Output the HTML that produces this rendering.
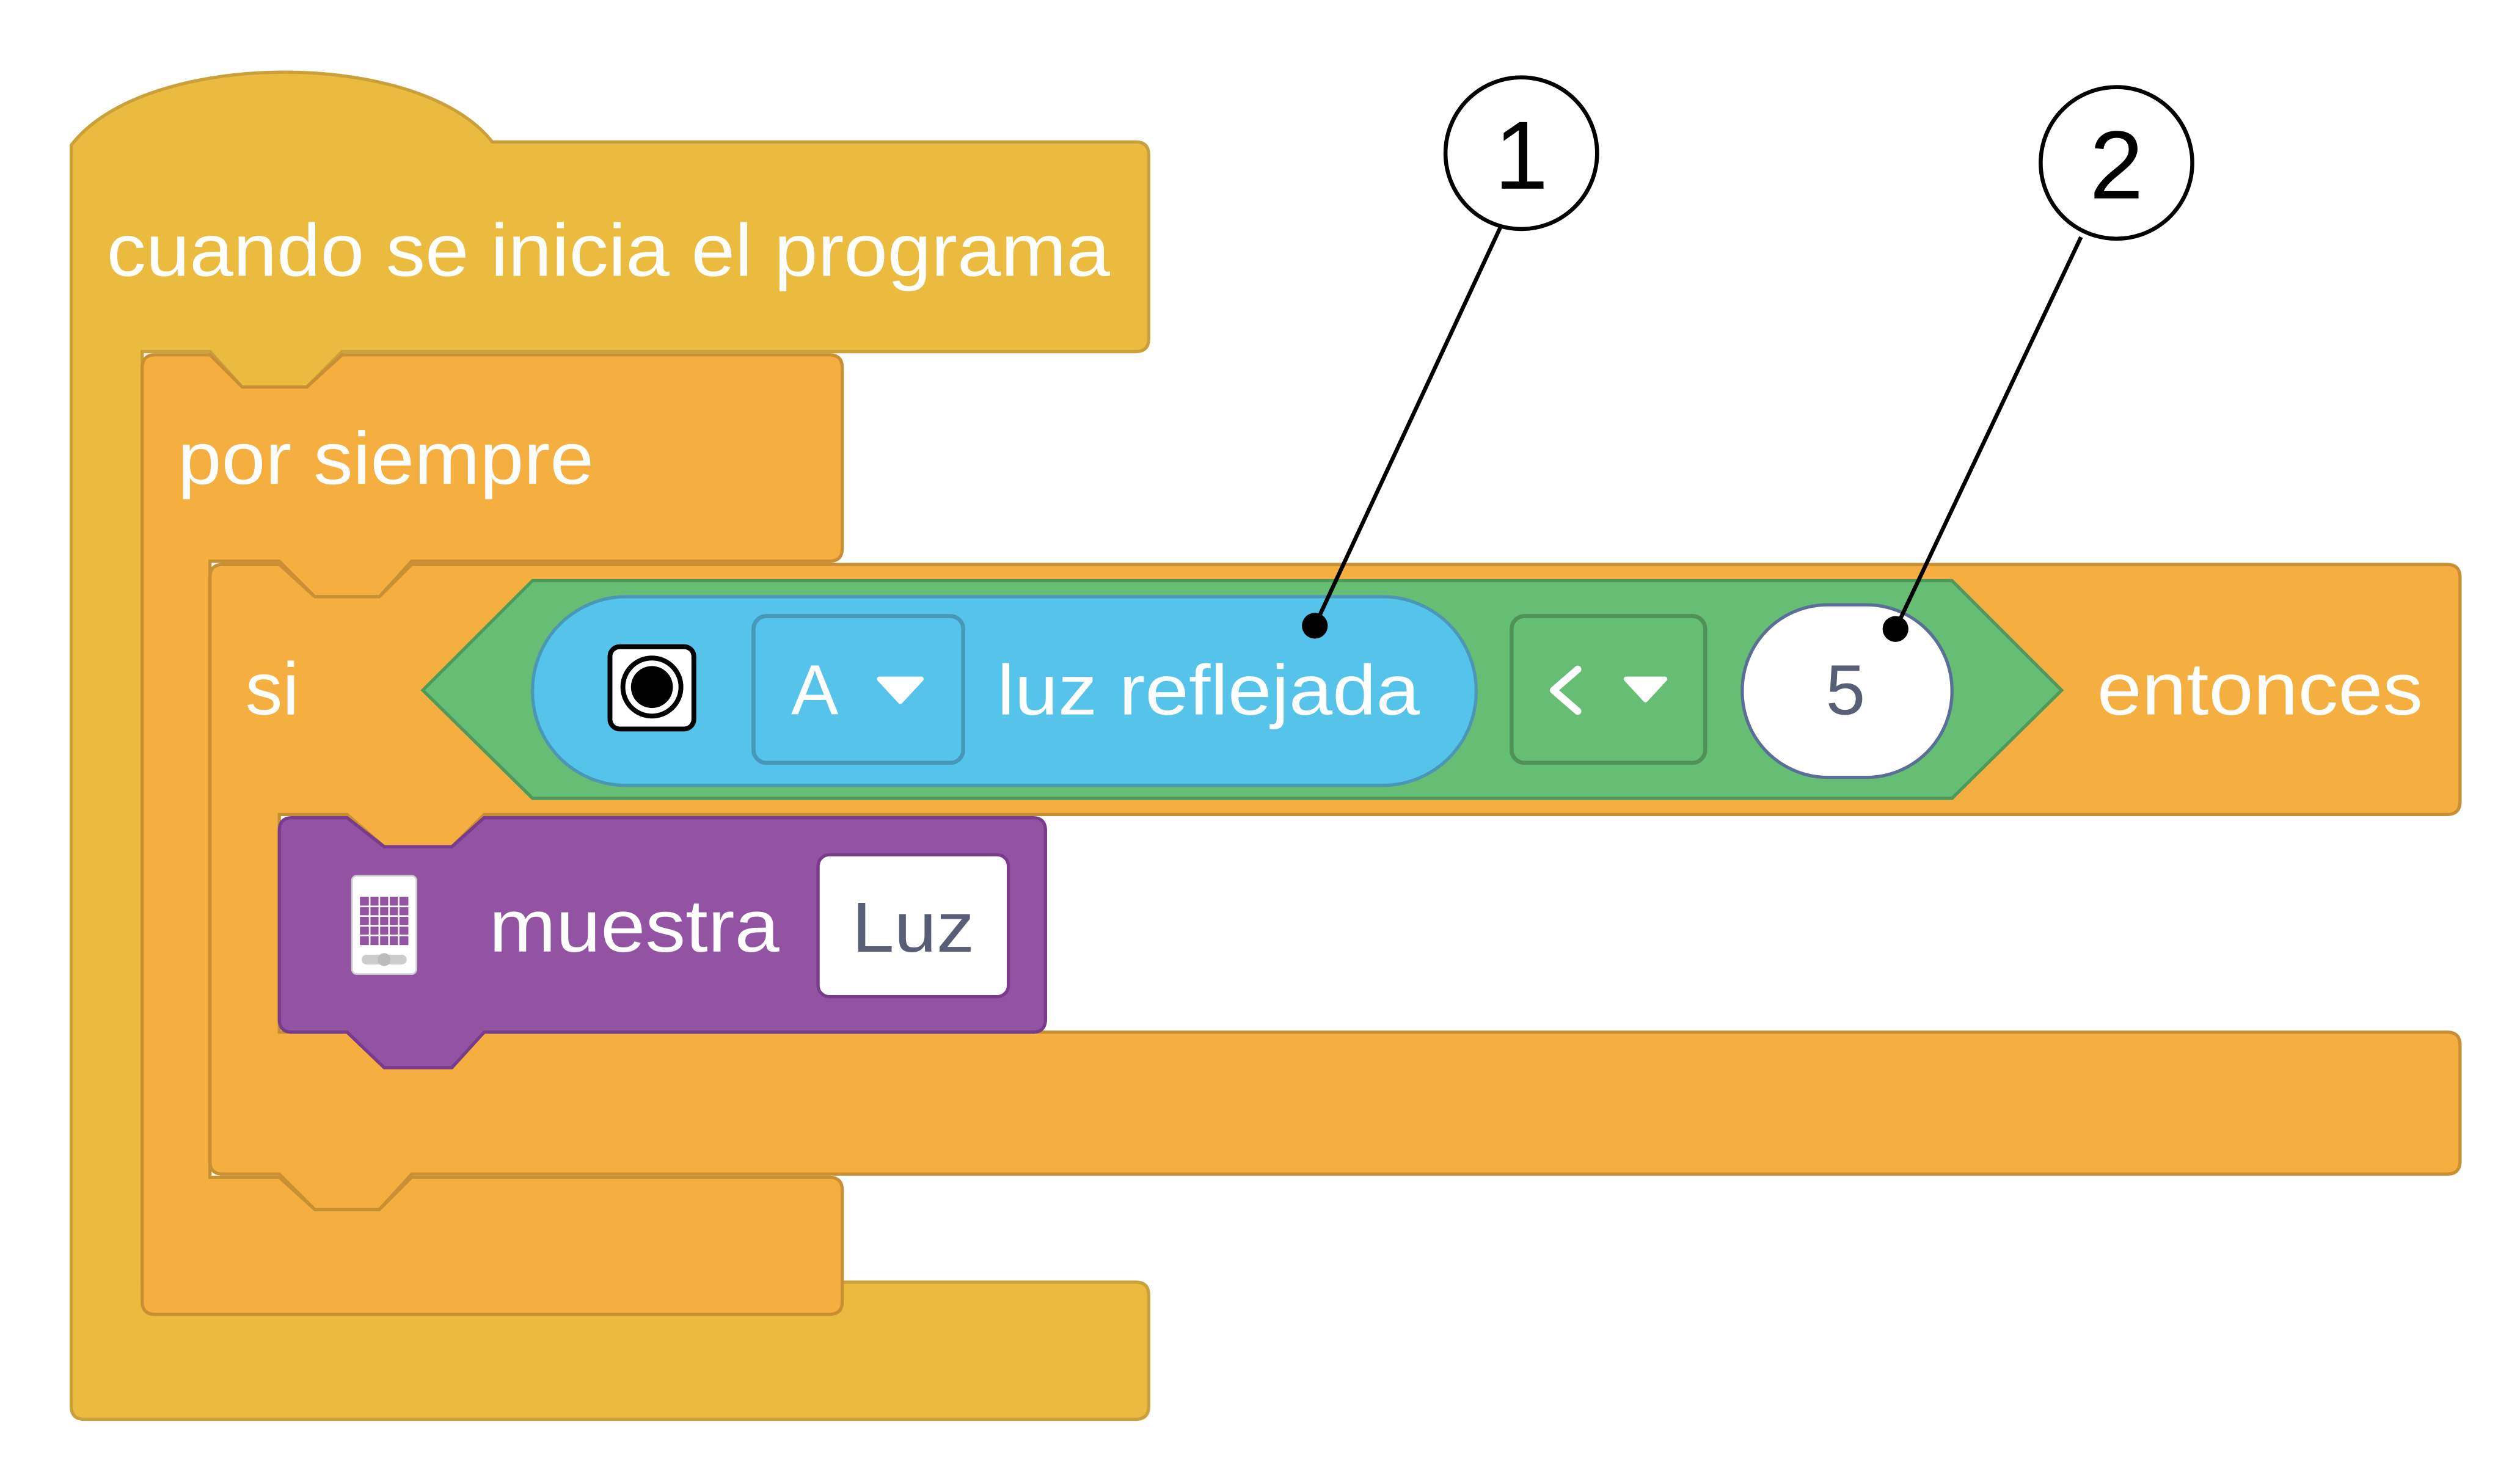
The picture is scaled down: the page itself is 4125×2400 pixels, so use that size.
<!DOCTYPE html>
<html><head><meta charset="utf-8"><style>html,body{margin:0;padding:0;background:#fff}svg{display:block}</style></head>
<body>
<svg width="4125" height="2400" viewBox="0 0 1562 909" xmlns="http://www.w3.org/2000/svg" font-family="'Liberation Sans', sans-serif">
<rect width="1562" height="909" fill="#fff"/>
<!-- hat block -->
<path d="M44,90 C90,30 260,30 305,88 L704,88 Q712,88 712,96 L712,210 Q712,218 704,218 L212,218 L190,240 L150,240 L130,218 L88,218 L88,795 L704,795 Q712,795 712,803 L712,872 Q712,880 704,880 L52,880 Q44,880 44,872 Z" fill="#EBBB40" stroke="#C9A03A" stroke-width="2"/>
<!-- forever -->
<path d="M96,220 L130,220 L150,240 L190,240 L212,220 L514,220 Q522,220 522,228 L522,340 Q522,348 514,348 L255,348 L235,370 L195,370 L173,348 L130,348 L130,730 L173,730 L195,750 L235,750 L255,730 L514,730 Q522,730 522,738 L522,807 Q522,815 514,815 L96,815 Q88,815 88,807 L88,228 Q88,220 96,220 Z" fill="#F5AF41" stroke="#C98F33" stroke-width="2"/>
<!-- if -->
<path d="M138,350 L173,350 L195,370 L235,370 L255,350 L1517,350 Q1525,350 1525,358 L1525,497 Q1525,505 1517,505 L300,505 L280,525 L238,525 L215,505 L173,505 L173,640 L1517,640 Q1525,640 1525,648 L1525,720 Q1525,728 1517,728 L255,728 L235,750 L195,750 L173,728 L138,728 Q130,728 130,720 L130,358 Q130,350 138,350 Z" fill="#F5AF41" stroke="#C98F33" stroke-width="2"/>
<!-- purple -->
<path d="M181,507 L215,507 L238,525 L280,525 L300,507 L640,507 Q648,507 648,515 L648,632 Q648,640 640,640 L300,640 L280,662 L238,662 L215,640 L181,640 Q173,640 173,632 L173,515 Q173,507 181,507 Z" fill="#9353A3" stroke="#7A3B8C" stroke-width="2"/>
<!-- green hex -->
<polygon points="262,428 330,360 1210,360 1278,428 1210,495 330,495" fill="#66BD74" stroke="#4E9A5B" stroke-width="2"/>
<rect x="330" y="370" width="585" height="117" rx="58" fill="#56C3EA" stroke="#4A98B6" stroke-width="2"/>
<rect x="378" y="401" width="52" height="51" rx="6" fill="#fff" stroke="#000" stroke-width="3"/>
<circle cx="404" cy="426" r="18" fill="none" stroke="#000" stroke-width="3"/>
<circle cx="404" cy="426" r="13" fill="#000"/>
<rect x="467" y="382" width="130" height="91" rx="8" fill="none" stroke="#4697B8" stroke-width="2.5"/>
<text x="505" y="443" font-size="44" fill="#fff" text-anchor="middle">A</text>
<path d="M545,421 L571,421 L558,435 Z" fill="#fff" stroke="#fff" stroke-width="3" stroke-linejoin="round"/>
<text x="618" y="443" font-size="44" fill="#fff" textLength="262" lengthAdjust="spacingAndGlyphs">luz reflejada</text>
<rect x="937" y="382" width="120" height="91" rx="8" fill="none" stroke="#4E9258" stroke-width="2.5"/>
<path d="M978,415 L963,428 L978,441" fill="none" stroke="#fff" stroke-width="4.5" stroke-linecap="round" stroke-linejoin="round"/>
<path d="M1008,421 L1032,421 L1020,434 Z" fill="#fff" stroke="#fff" stroke-width="3" stroke-linejoin="round"/>
<rect x="1080" y="375" width="130" height="107" rx="53" fill="#fff" stroke="#5A6F96" stroke-width="2"/>
<text x="1144" y="443" font-size="44" fill="#575E75" text-anchor="middle">5</text>
<text x="1300" y="443" font-size="46" fill="#fff" textLength="202" lengthAdjust="spacingAndGlyphs">entonces</text>
<text x="152" y="443" font-size="46" fill="#fff">si</text>
<text x="66" y="171" font-size="46" fill="#fff" textLength="622" lengthAdjust="spacingAndGlyphs">cuando se inicia el programa</text>
<text x="110" y="300" font-size="46" fill="#fff" textLength="258" lengthAdjust="spacingAndGlyphs">por siempre</text>
<!-- matrix icon -->
<rect x="218" y="543" width="40" height="61" rx="3" fill="#fff" stroke="#ccc" stroke-width="1"/>
<rect x="223" y="556" width="30" height="30" fill="#9353A3"/>
<g stroke="#fff" stroke-width="1"><path d="M229,556V586M235,556V586M241,556V586M247,556V586M223,562H253M223,568H253M223,574H253M223,580H253"/></g>
<rect x="224" y="592" width="28" height="6" rx="3" fill="#ccc"/>
<circle cx="238" cy="595" r="4" fill="#bbb"/>
<text x="303" y="590" font-size="46" fill="#fff" textLength="180" lengthAdjust="spacingAndGlyphs">muestra</text>
<rect x="507" y="530" width="118" height="88" rx="7" fill="#fff" stroke="#7A3B8C" stroke-width="2"/>
<text x="528" y="590" font-size="44" fill="#575E75" textLength="76" lengthAdjust="spacingAndGlyphs">Luz</text>
<!-- callouts -->
<line x1="930" y1="141" x2="815" y2="388" stroke="#000" stroke-width="2.5"/>
<circle cx="815" cy="388" r="8" fill="#000"/>
<circle cx="943" cy="95" r="47" fill="#fff" stroke="#000" stroke-width="2.5"/>
<text x="943" y="117" font-size="60" text-anchor="middle" fill="#000">1</text>
<line x1="1290" y1="147" x2="1175" y2="390" stroke="#000" stroke-width="2.5"/>
<circle cx="1175" cy="390" r="8" fill="#000"/>
<circle cx="1312" cy="101" r="47" fill="#fff" stroke="#000" stroke-width="2.5"/>
<text x="1312" y="123" font-size="60" text-anchor="middle" fill="#000">2</text>
</svg>
</body></html>
